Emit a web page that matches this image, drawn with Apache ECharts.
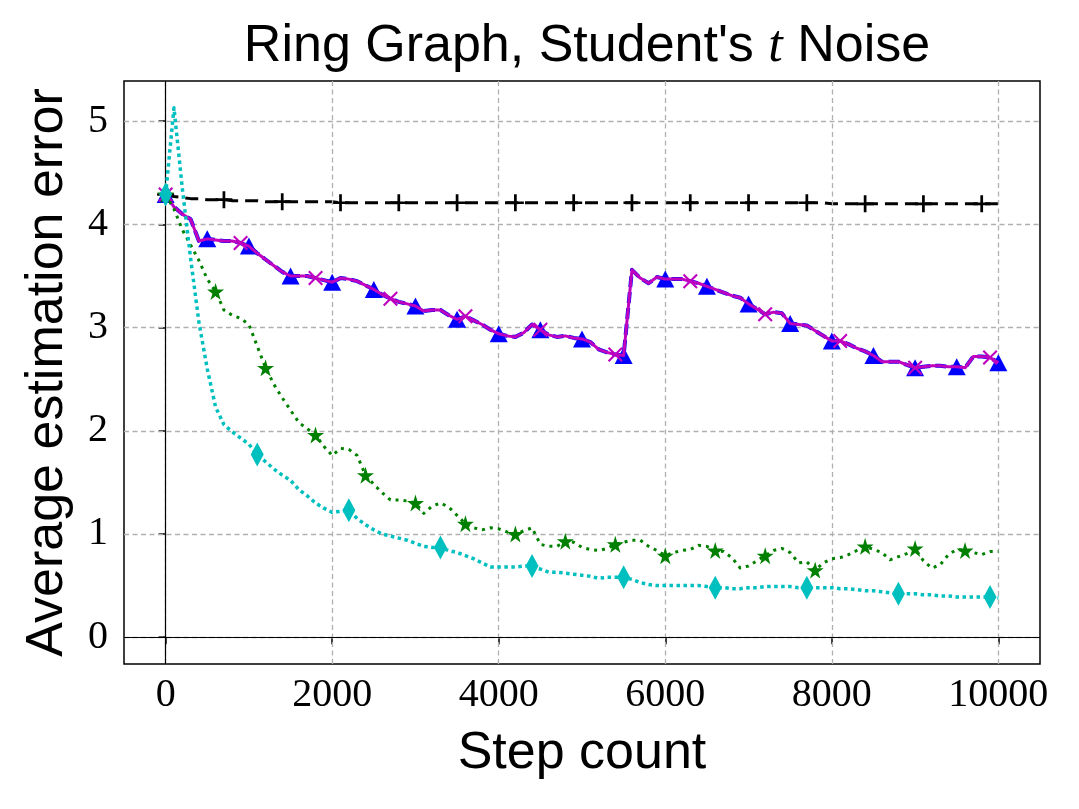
<!DOCTYPE html>
<html>
<head>
<meta charset="utf-8">
<script src="https://cdn.jsdelivr.net/npm/echarts@6/dist/echarts.min.js"></script>
<style>
  html, body { margin: 0; padding: 0; background: #fff; }
  #chart { width: 1079px; height: 809px; }
</style>
</head>
<body>
<div id="chart"></div>
<script>
// step grid of the recorded runs (every 100 steps)
const steps = Array.from({length: 101}, (_, i) => i * 100);

const xTicks = [0, 2000, 4000, 6000, 8000, 10000];
const yTicks = [0, 1, 2, 3, 4, 5];

// black dashed, "+" markers
const blackVals = [
  4.29, 4.27, 4.26, 4.25, 4.25, 4.24, 4.24, 4.24, 4.23, 4.23,
  4.23, 4.23, 4.22, 4.22, 4.22, 4.22, 4.22, 4.22, 4.22, 4.22,
  4.22, 4.21, 4.21, 4.21, 4.21, 4.21, 4.21, 4.21, 4.21, 4.21,
  4.21, 4.21, 4.21, 4.21, 4.21, 4.21, 4.21, 4.21, 4.21, 4.21,
  4.21, 4.21, 4.21, 4.21, 4.21, 4.21, 4.21, 4.21, 4.21, 4.21,
  4.21, 4.21, 4.21, 4.21, 4.21, 4.21, 4.21, 4.21, 4.21, 4.21,
  4.21, 4.21, 4.21, 4.21, 4.21, 4.21, 4.21, 4.21, 4.21, 4.21,
  4.21, 4.21, 4.21, 4.21, 4.21, 4.21, 4.21, 4.21, 4.21, 4.21,
  4.20, 4.20, 4.20, 4.20, 4.20, 4.20, 4.20, 4.20, 4.20, 4.20,
  4.20, 4.20, 4.20, 4.20, 4.20, 4.20, 4.20, 4.20, 4.20, 4.20,
  4.20
];

// blue dashed (triangles) and magenta solid (x) lie on top of each other
const blueVals = [
  4.29, 4.17, 4.10, 4.05, 3.84, 3.86, 3.85, 3.84, 3.84, 3.82,
  3.79, 3.72, 3.66, 3.60, 3.54, 3.50, 3.50, 3.50, 3.48, 3.46,
  3.44, 3.48, 3.47, 3.45, 3.41, 3.37, 3.32, 3.28, 3.25, 3.23,
  3.21, 3.16, 3.17, 3.17, 3.12, 3.08, 3.11, 3.07, 3.03, 2.98,
  2.94, 2.92, 2.91, 2.95, 3.03, 2.98, 2.93, 2.91, 2.92, 2.90,
  2.89, 2.86, 2.79, 2.76, 2.74, 2.73, 3.56, 3.48, 3.43, 3.49,
  3.47, 3.47, 3.47, 3.45, 3.43, 3.40, 3.37, 3.34, 3.31, 3.29,
  3.23, 3.18, 3.13, 3.15, 3.14, 3.04, 3.03, 3.02, 2.97, 2.92,
  2.87, 2.87, 2.84, 2.80, 2.77, 2.73, 2.67, 2.67, 2.67, 2.64,
  2.61, 2.62, 2.63, 2.63, 2.62, 2.62, 2.61, 2.72, 2.72, 2.71,
  2.66
];
const magentaVals = blueVals.slice();

// green dotted, stars
const greenVals = [
  4.29, 4.15, 3.95, 3.80, 3.65, 3.47, 3.35, 3.17, 3.12, 3.09,
  3.03, 2.82, 2.61, 2.45, 2.32, 2.20, 2.08, 2.02, 1.96, 1.85,
  1.76, 1.83, 1.82, 1.76, 1.57, 1.48, 1.40, 1.33, 1.33, 1.32,
  1.30, 1.20, 1.27, 1.30, 1.26, 1.18, 1.10, 1.06, 1.04, 1.06,
  1.05, 1.02, 1.00, 1.03, 1.06, 0.90, 0.88, 0.88, 0.93, 0.92,
  0.87, 0.85, 0.84, 0.86, 0.90, 0.92, 0.94, 0.94, 0.88, 0.84,
  0.79, 0.82, 0.84, 0.85, 0.89, 0.88, 0.84, 0.83, 0.77, 0.67,
  0.69, 0.74, 0.79, 0.84, 0.86, 0.82, 0.72, 0.73, 0.65, 0.72,
  0.76, 0.77, 0.80, 0.84, 0.88, 0.85, 0.82, 0.75, 0.78, 0.81,
  0.86, 0.74, 0.67, 0.70, 0.80, 0.85, 0.84, 0.82, 0.80, 0.83,
  0.83
];

// cyan dotted, thin diamonds
const cyanVals = [
  4.29, 5.13, 4.35, 3.67, 3.05, 2.60, 2.23, 2.06, 1.99, 1.93,
  1.87, 1.77, 1.70, 1.63, 1.57, 1.52, 1.43, 1.37, 1.30, 1.25,
  1.21, 1.22, 1.23, 1.15, 1.09, 1.04, 1.00, 0.98, 0.96, 0.94,
  0.91, 0.88, 0.87, 0.87, 0.84, 0.82, 0.79, 0.76, 0.72, 0.68,
  0.68, 0.68, 0.68, 0.69, 0.69, 0.66, 0.63, 0.63, 0.62, 0.61,
  0.60, 0.59, 0.57, 0.58, 0.58, 0.58, 0.56, 0.53, 0.51, 0.50,
  0.50, 0.50, 0.50, 0.50, 0.50, 0.49, 0.48, 0.48, 0.47, 0.47,
  0.48, 0.48, 0.49, 0.49, 0.49, 0.49, 0.48, 0.48, 0.48, 0.48,
  0.48, 0.47, 0.47, 0.46, 0.45, 0.45, 0.44, 0.43, 0.42, 0.42,
  0.42, 0.41, 0.41, 0.40, 0.40, 0.39, 0.39, 0.39, 0.39, 0.39,
  0.38
];

const PLUS = 'path://M4.2,0H5.8V10H4.2Z M0,4.2H10V5.8H0Z';
const CROSS = 'path://M0,1L1,0L10,9L9,10Z M9,0L10,1L1,10L0,9Z';
const STAR = 'path://M50,0L61,35L98,35L68,57L79,91L50,70L21,91L32,57L2,35L39,35Z';

const pairs = vals => steps.map((s, i) => [s, vals[i]]);
const every = (vals, n) => steps.map((s, i) => [s, vals[i]]).filter((_, i) => i % n === 0);

const lineSeries = (vals, color, width, type, z) => ({
  type: 'line', data: pairs(vals), showSymbol: false, silent: true, z: z,
  lineStyle: {color: color, width: width, type: type, cap: 'butt', join: 'round'}
});
const markSeries = (vals, n, symbol, size, color, z) => ({
  type: 'scatter', data: every(vals, n), symbol: symbol, symbolSize: size,
  silent: true, z: z, itemStyle: {color: color, opacity: 1}
});

const chart = echarts.init(document.getElementById('chart'), null, {renderer: 'canvas'});

const serif = 'Liberation Serif';
const sans = 'Liberation Sans';

chart.setOption({
  animation: false,
  backgroundColor: '#fff',
  title: {
    text: "{a|Ring Graph, Student's }{t|t}{a| Noise}",
    left: 582, top: 16, textAlign: 'center',
    textStyle: {
      fontWeight: 'normal',
      rich: {
        a: {fontFamily: sans, fontSize: 52, fontWeight: 'normal', color: '#000'},
        t: {fontFamily: serif, fontStyle: 'italic', fontWeight: 'normal', fontSize: 52, color: '#000'}
      }
    }
  },
  grid: {
    left: 124, right: 39, top: 81, bottom: 145,
    show: true, borderColor: '#000', borderWidth: 1.5, backgroundColor: 'transparent'
  },
  xAxis: {
    type: 'value', min: -500, max: 10500,
    axisLine: {show: false},
    splitLine: {show: false},
    axisTick: {show: true, customValues: xTicks, length: 7, lineStyle: {color: '#000', width: 1.5}},
    axisLabel: {customValues: xTicks, formatter: v => String(v), fontFamily: serif, fontSize: 40, color: '#000', margin: 11},
    name: 'Step count', nameLocation: 'middle', nameGap: 64,
    nameTextStyle: {fontFamily: sans, fontSize: 52, color: '#000'}
  },
  yAxis: {
    type: 'value', min: -0.26, max: 5.39,
    axisLine: {show: false},
    splitLine: {show: false},
    axisTick: {show: true, customValues: yTicks, length: 7, lineStyle: {color: '#000', width: 1.5}},
    axisLabel: {customValues: yTicks, formatter: v => String(v), fontFamily: serif, fontSize: 40, color: '#000', margin: 16},
    name: 'Average estimation error', nameLocation: 'middle', nameGap: 50,
    nameTextStyle: {fontFamily: sans, fontSize: 52, color: '#000'}
  },
  series: [
    {
      // grid lines
      type: 'line', data: [], z: 1, silent: true,
      markLine: {
        silent: true, symbol: ['none', 'none'], label: {show: false}, animation: false,
        lineStyle: {color: '#b0b0b0', width: 1.3, type: [5, 3.5]},
        data: xTicks.map(v => ({xAxis: v})).concat(yTicks.map(v => ({yAxis: v})))
      }
    },
    {
      // zero lines
      type: 'line', data: [], z: 2, silent: true,
      markLine: {
        silent: true, symbol: ['none', 'none'], label: {show: false}, animation: false,
        lineStyle: {color: '#000', width: 1.2, type: 'solid'},
        data: [{xAxis: 0}, {yAxis: 0}]
      }
    },
    lineSeries(blackVals, '#000000', 3, [13, 7], 3),
    markSeries(blackVals, 7, PLUS, 17, '#000000', 4),
    lineSeries(blueVals, '#0000ff', 4, [11, 5], 5),
    markSeries(blueVals, 5, 'triangle', [18, 17], '#0000ff', 6),
    lineSeries(magentaVals, '#bf00bf', 3, 'solid', 7),
    markSeries(magentaVals, 9, CROSS, 15, '#bf00bf', 8),
    lineSeries(greenVals, '#008000', 3, [3, 5], 9),
    markSeries(greenVals, 6, STAR, 17, '#008000', 10),
    lineSeries(cyanVals, '#00bfbf', 3.5, [3.5, 3.5], 11),
    markSeries(cyanVals, 11, 'diamond', [13, 24], '#00bfbf', 12)
  ]
});
</script>
</body>
</html>
